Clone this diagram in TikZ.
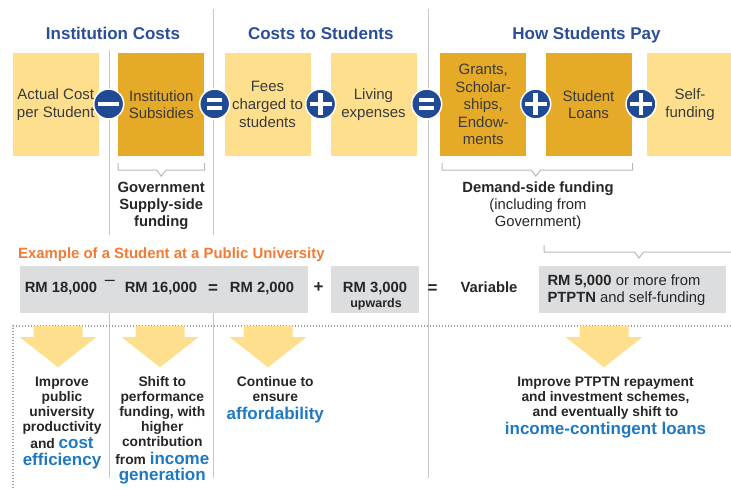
\documentclass[tikz,border=0pt]{standalone}
\usepackage{fontspec}
\setmainfont{Liberation Sans}
\usetikzlibrary{positioning}
\usetikzlibrary{calc}

\definecolor{paleyellow}{HTML}{FEDF8E}
\definecolor{gold}{HTML}{E6AA29}
\definecolor{opblue}{HTML}{204A93}
\definecolor{headblue}{HTML}{2A4E98}
\definecolor{hiblue}{HTML}{1E79C3}
\definecolor{exorange}{HTML}{F27A33}
\definecolor{panelgray}{HTML}{DCDDDF}
\definecolor{rulegray}{HTML}{C6C7C9}
\definecolor{darktext}{HTML}{262626}
\definecolor{boxtext}{HTML}{3A3A3A}

\newcommand{\hiword}[1]{{\fontsize{17}{17}\selectfont\color{hiblue}#1}}
\newcommand{\fixedlines}{\lineskiplimit=-20pt\relax}

\begin{document}
\begin{tikzpicture}[x=1pt, y=-1pt,
    box/.style={minimum width=86pt, minimum height=103pt, inner sep=0pt, align=center, text=boxtext, font=\fontsize{15}{17.6}\selectfont},
    lightbox/.style={box, fill=paleyellow},
    darkbox/.style={box, fill=gold},
    op/.style={circle, fill=opblue, draw=white, line width=1.5pt, minimum size=30pt, inner sep=0pt},
    opsign/.style={white, line width=4.8pt},
    heading/.style={text=headblue, font=\fontsize{17}{20}\selectfont\bfseries, inner sep=0pt, anchor=base},
    rule/.style={rulegray, line width=1pt},
    bracket/.style={draw=black!28, line width=1pt},
    note/.style={align=center, text=darktext, inner sep=0pt, anchor=north, font=\fontsize{14.8}{16.8}\selectfont},
    panel/.style={fill=panelgray, minimum height=47pt, inner sep=0pt},
    extext/.style={text=darktext, font=\fontsize{14.8}{17}\selectfont\bfseries, inner sep=0pt, anchor=base},
    action/.style={align=center, text=darktext, inner sep=0pt, anchor=north, font={\fontsize{13.8}{15}\selectfont\bfseries\fixedlines}},
    dotframe/.style={draw=black!38, line width=1.3pt, dash pattern=on 1.3pt off 1.7pt}
  ]
  \useasboundingbox (0,0) rectangle (731,488);

  % separating rules
  \draw[rule] (109,50) -- (109,235) (109,313) -- (109,478);
  \draw[rule] (213,9) -- (213,235) (213,313) -- (213,478);
  \draw[rule] (428,9) -- (428,478);

  % headings
  \node[heading] (h inst) at (113,39) {Institution Costs};
  \node[heading] (h stud) at (320.8,39) {Costs to Students};
  \node[heading] (h pay) at (586.5,39) {How Students Pay};

  % the equation boxes
  \node[lightbox] (actual) at (55.7,104.5) {Actual Cost\\per Student};
  \node[darkbox] (subsidy) at (161.3,104.5) {Institution\\Subsidies};
  \node[lightbox] (fees) at (267.5,104.5) {Fees\\charged to\\students};
  \node[lightbox] (living) at (373.5,104.5) {Living\\expenses};
  \node[darkbox] (grants) at (483.3,104.5) {Grants,\\Scholar-\\ships,\\Endow-\\ments};
  \node[darkbox] (loans) at (588.5,104.5) {Student\\Loans};
  \node[lightbox] (self) at (690,104.5) {Self-\\funding};

  % operators
  \node[op] (minus) at (108.7,104) {};
  \draw[opsign] ($(minus)+(-10.3,0)$) -- ++(20.6,0);
  \foreach \name/\x in {eqa/214.7, eqb/426.7} {
    \node[op] (\name) at (\x,104) {};
    \draw[opsign, line width=4pt] ($(\name)+(-7.7,-4.4)$) -- ++(15.4,0) ($(\name)+(-7.7,4.4)$) -- ++(15.4,0);
  }
  \foreach \name/\x in {plusa/320.7, plusb/535.7, plusc/641} {
    \node[op] (\name) at (\x,104) {};
    \draw[opsign] ($(\name)+(-10.8,0)$) -- ++(21.6,0) ($(\name)+(0,-10.8)$) -- ++(0,21.6);
  }

  % brackets
  \draw[bracket] ($(subsidy.south west)+(0,7)$) |- ($(subsidy.south)+(-4.5,14)$) -- ++(4.5,6) -- ++(4.5,-6) -| ($(subsidy.south east)+(0,7)$);
  \coordinate (demand) at ($(grants.south west)!.5!(loans.south east)$);
  \draw[bracket] ($(grants.south west)+(2,7)$) |- ($(demand)+(-4.5,14)$) -- ++(4.5,6) -- ++(4.5,-6) -| ($(loans.south east)+(1,7)$);
  \node[note, font=\fontsize{14.8}{16.8}\selectfont\bfseries] (supply note) at (161.2,182) {Government\\Supply-side\\funding};
  \node[note] (demand note) at (538,182) {\textbf{Demand-side funding}\\(including from\\Government)};

  % example
  \node[text=exorange, font=\fontsize{14.9}{17}\selectfont\bfseries, inner sep=0pt, anchor=base west] (ex title) at (18,258.3) {Example of a Student at a Public University};
  \node[panel, minimum width=288pt] (ex cost) at (164,289.5) {};
  \node[panel, minimum width=88pt] (ex living) at (375,289.5) {};
  \node[panel, minimum width=186.7pt] (ex pay) at (632.3,289.5) {};
  \coordinate (pay left) at (544,245);
  \draw[bracket] (pay left) |- (634.5,252) -- ++(4.5,6) -- ++(4.5,-6) -- (740,252);

  \node[extext] (rm actual) at (61,292.7) {RM 18,000};
  \node[extext, anchor=center, font=\fontsize{18}{18}\selectfont] (ex minus) at (110,283.3) {–};
  \node[extext] (rm subsidy) at (161,292.7) {RM 16,000};
  \node[extext, anchor=center, font=\fontsize{17}{17}\selectfont\bfseries] (ex eqa) at (213,289) {=};
  \node[extext] (rm fees) at (262,292.7) {RM 2,000};
  \node[extext, anchor=center, font=\fontsize{17}{17}\selectfont\bfseries] (ex plus) at (318.7,288) {+};
  \node[extext] (rm living) at (375,292.7) {RM 3,000};
  \node[extext, font=\fontsize{12.5}{14}\selectfont\bfseries] (upwards) at (376,307) {upwards};
  \node[extext, anchor=center, font=\fontsize{17}{17}\selectfont\bfseries] (ex eqb) at (432.5,289) {=};
  \node[extext] (variable) at (489,292.7) {Variable};
  \node[extext, anchor=north west, align=left, font=\fontsize{14.8}{17.3}\selectfont] (pay text) at (547.3,274.5) {\textbf{RM 5,000} or more from\\\textbf{PTPTN} and self-funding};

  % actions
  \draw[dotframe] (13,488) -- (13,326) -- (740,326);
  \foreach \cx in {58,160,268,604} {
    \fill[paleyellow] (\cx-24.5,326) -- (\cx+24.5,326) -- (\cx+24.5,337) -- (\cx+38.5,337) -- (\cx,367.3) -- (\cx-38.5,337) -- (\cx-24.5,337) -- cycle;
  }
  \node[action] (act prod) at (62,376.3) {Improve\\public\\university\\productivity\\[2.3pt]and \hiword{cost}\\[1.7pt]\hiword{efficiency}};
  \node[action] (act perf) at (162.3,376) {Shift to\\performance\\funding, with\\higher\\contribution\\[3pt]from \hiword{income}\\[1.7pt]\hiword{generation}};
  \node[action] (act afford) at (275.3,376.3) {Continue to\\ensure\\[3.3pt]\hiword{affordability}};
  \node[action] (act loans) at (605.5,376.3) {Improve PTPTN repayment\\and investment schemes,\\and eventually shift to\\[3pt]\hiword{income-contingent loans}};
\end{tikzpicture}
\end{document}
